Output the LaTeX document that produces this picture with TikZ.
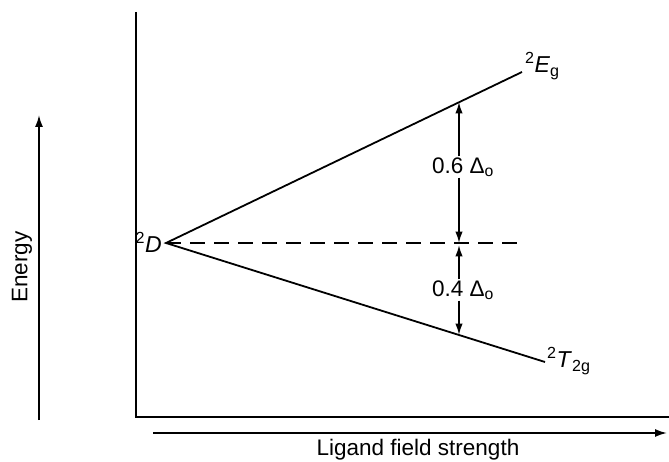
\documentclass[tikz,border=0pt]{standalone}
\usepackage{fontspec}
\setmainfont{Liberation Sans}
\usepackage{tikz}
\usetikzlibrary{arrows.meta,calc,positioning}
\tikzset{
  ax/.style={draw=black,line width=1.8pt},
  lvl/.style={draw=black,line width=1.8pt},
  mid/.style={draw=black,line width=1.8pt,dash pattern=on 15pt off 9pt},
  dim/.style={-{Latex[length=4mm,width=2.6mm]},line width=1.7pt,draw=black},
  dir/.style={-{Latex[length=4.2mm,width=2.8mm]},line width=1.8pt,draw=black},
  lb/.style={font=\fontsize{22.5}{26}\selectfont,inner sep=1pt},
  st/.style={font=\fontsize{23}{27}\selectfont,inner sep=1pt},
}
\begin{document}
\begin{tikzpicture}[x=1pt,y=-1pt]
\useasboundingbox (0,0) rectangle (669,462);
% ---------------- frame and axes
\coordinate (top) at (136,12); \coordinate (org) at (136,417);
\coordinate (rgt) at (669,417);
\draw[ax] (top) -- (org) -- (rgt);
\coordinate (e0) at (39,420); \coordinate (e1) at (39,115);
\draw[dir] (e0) -- (e1);
\node[lb,rotate=90] (en) at (22,267) {Energy};
\coordinate (f0) at (153,433); \coordinate (f1) at (667,433);
\draw[dir] (f0) -- (f1);
\node[lb,anchor=base] (lf) at (418,455) {Ligand field strength};
% ---------------- free ion term and its splitting
\coordinate (D) at (166,243);
\coordinate (Eg) at (522,72); \coordinate (Tg) at (545,362);
\coordinate (De) at (520,243);
\draw[lvl] (Eg) -- (D) -- (Tg);
\draw[mid] (D) -- (De);
\node[st,anchor=east] (lD) at (163,242) {\textsuperscript{2}\textit{D}};
\node[st,anchor=west] (lE) at (524,66) {\textsuperscript{2}\textit{E}\textsubscript{g}};
\node[st,anchor=west] (lT) at (546,361) {\textsuperscript{2}\textit{T}\textsubscript{2g}};
% ---------------- the two gaps
\coordinate (u) at (459,102); \coordinate (m) at (459,243);
\coordinate (l) at (459,335);
\node[lb] (g6) at (463,167) {0.6 Δ\textsubscript{o}};
\node[lb] (g4) at (463,290) {0.4 Δ\textsubscript{o}};
\draw[dim] (g6.north -| u) -- (u);
\draw[dim] (g6.south -| u) -- (m);
\draw[dim] (g4.north -| u) -- ($(m)+(0,2)$);
\draw[dim] (g4.south -| u) -- (l);
\end{tikzpicture}
\end{document}
